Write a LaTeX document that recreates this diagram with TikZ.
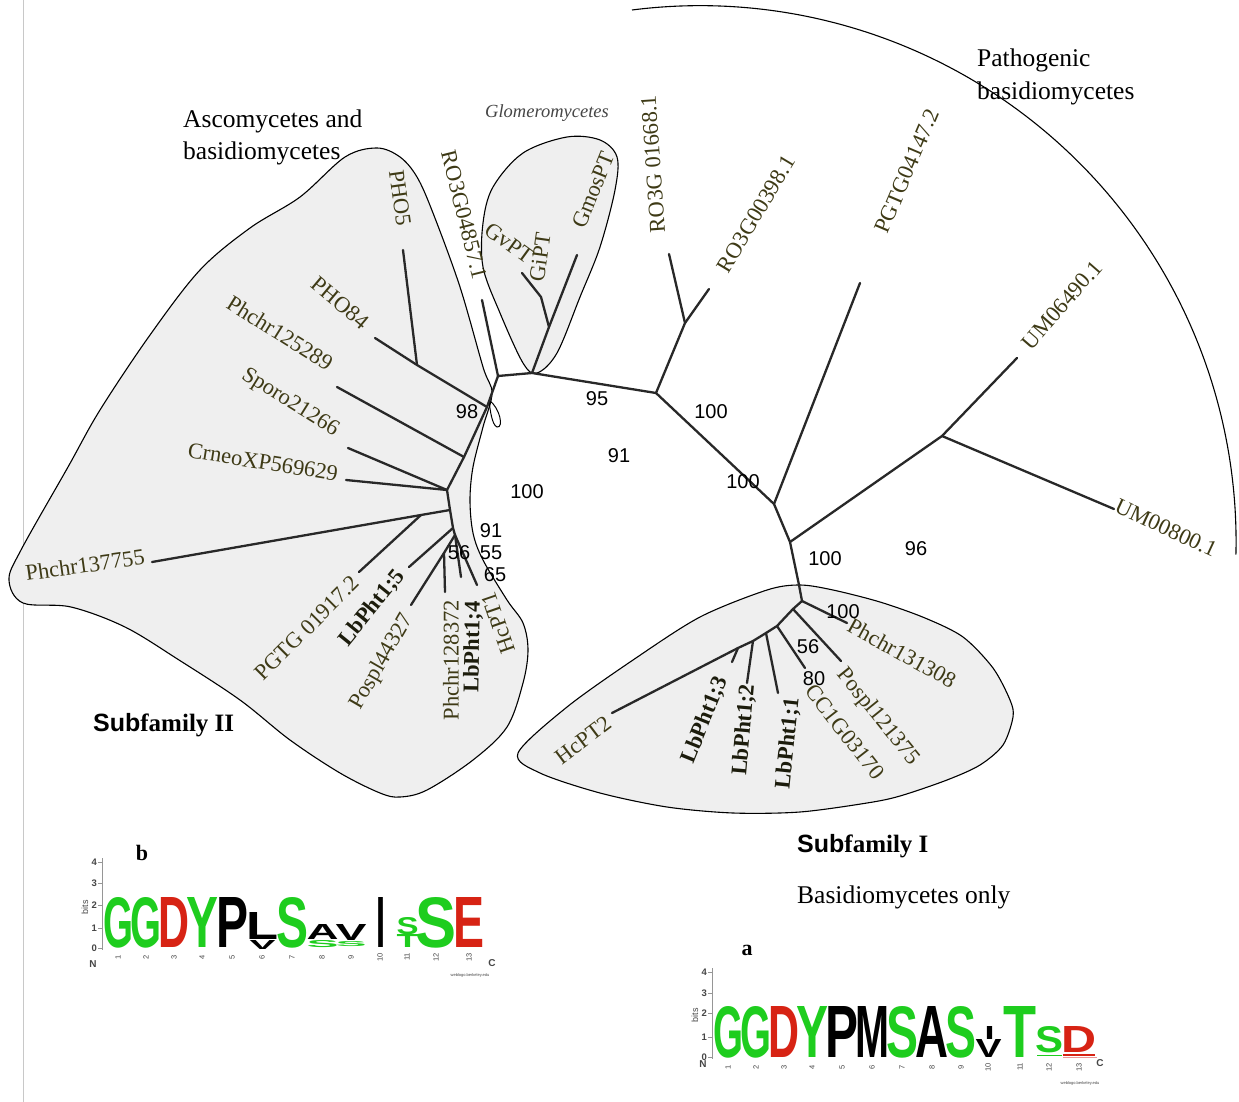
\documentclass[tikz,border=0pt]{standalone}
\usepackage{fontspec}
\setmainfont{Liberation Serif}
\setsansfont{Liberation Sans}
\usepackage{graphicx}
\definecolor{branchc}{RGB}{40,40,40}
\definecolor{blobc}{RGB}{239,239,239}
\definecolor{leafc}{RGB}{62,58,22}
\definecolor{leafbc}{RGB}{28,28,12}
\definecolor{lgreen}{RGB}{30,205,30}
\definecolor{lred}{RGB}{215,35,20}
\definecolor{lpink}{RGB}{235,150,150}
\definecolor{axisc}{RGB}{150,150,150}
\definecolor{axistc}{RGB}{70,70,70}
\definecolor{edgec}{RGB}{200,200,200}
\newcommand{\logoletter}[7]{%
  \node[inner sep=0pt, anchor=south west, text=#5] (#7) at ({#1-1.5},#4)
  {\resizebox{\dimexpr #2pt-#1pt+3pt\relax}{\dimexpr #4pt-#3pt\relax}{\sffamily\bfseries #6}};}
\begin{document}
\begin{tikzpicture}[x=1pt,y=-1pt,
  branch/.style={draw=branchc, line width=2.3pt, line cap=round, line join=round},
  blob/.style={draw=black, line width=1.1pt, fill=blobc},
  leaf/.style={inner sep=0pt, text=leafc, font=\fontsize{22.5}{22.5}\selectfont},
  leafbold/.style={inner sep=0pt, text=leafbc, font=\fontsize{22.5}{22.5}\selectfont\bfseries},
  boot/.style={inner sep=0pt, font=\sffamily\fontsize{20}{20}\selectfont},
  grp/.style={inner sep=0pt, anchor=base west, font=\fontsize{25.5}{25.5}\selectfont},
  tick/.style={draw=axisc, line width=0.8pt},
  ticklab/.style={inner sep=0pt, anchor=east, text=axistc, font=\sffamily\bfseries\fontsize{9.5}{9.5}\selectfont},
  posnum/.style={inner sep=0pt, rotate=90, text=axistc, font=\sffamily\fontsize{7.5}{7.5}\selectfont},
  tiny/.style={inner sep=0pt, text=axistc, font=\sffamily\fontsize{4}{4}\selectfont},
  ncl/.style={inner sep=0pt, text=axistc, font=\sffamily\bfseries\fontsize{10}{10}\selectfont},
]
\useasboundingbox (0,0) rectangle (1239,1102);
\fill[white] (0,0) rectangle (1239,1102);
\draw[edgec, line width=1pt] (23,0) -- (23,1102);

% ---------- clade outlines ----------
\draw[blob] plot[smooth cycle, tension=0.55] coordinates {
 (9,580) (21,550) (68,467) (100,410) (150,335) (200,270) (250,228) (300,197)
 (345,157) (377,148) (400,157) (417,177) (433,213) (460,287) (483,367) (492,393)
 (483,427) (473,467) (470,500) (473,533) (483,560) (507,600) (523,623) (528,650)
 (523,683) (507,727) (473,760) (427,790) (400,797) (380,793) (340,773) (290,740)
 (240,700) (179,660) (125,627) (71,607) (23,603)};
\draw[blob] plot[smooth cycle, tension=0.55] coordinates {
 (483,223) (493,187) (523,153) (567,137) (600,140) (617,157) (615,190) (600,247)
 (580,297) (557,353) (537,373) (523,363) (500,313) (483,267)};
\draw[blob] plot[smooth cycle, tension=0.5] coordinates {
 (518,753) (567,707) (633,660) (700,617) (767,590) (800,585) (833,590) (880,602)
 (925,618) (963,637) (993,668) (1010,700) (1013,717) (1003,745) (980,765) (947,780)
 (900,796) (867,803) (800,812) (733,813) (667,807) (600,793) (540,773)};
\draw[black, line width=1pt] (489,400) .. controls (500,408) and (504,428) .. (497,427)
  .. controls (492,425) and (490,410) .. (489,400);
% pathogenic arc
\draw[black, line width=1.1pt] (632,10) arc[start angle=-97.3, end angle=1.4, radius=536];

% ---------- tree coordinates ----------
\coordinate (A) at (498,376);
\coordinate (G0) at (532,373);
\coordinate (G1) at (549,327);
\coordinate (Gk) at (541,297);
\coordinate (Gv) at (522,273);
\coordinate (Gm) at (577,255);
\coordinate (B) at (656,393);
\coordinate (R) at (685,323);
\coordinate (Rt1) at (669,254);
\coordinate (Rt2) at (709,289);
\coordinate (C) at (774,504);
\coordinate (Pt) at (860,283);
\coordinate (D) at (790,542);
\coordinate (E) at (942,436);
\coordinate (U1) at (1017,358);
\coordinate (U2) at (1114,509);
\coordinate (Dd) at (799,585);
\coordinate (S1) at (802,601);
\coordinate (S2) at (793,609);
\coordinate (S3) at (777,626);
\coordinate (S4) at (766,633);
\coordinate (S5) at (753,641);
\coordinate (S6) at (738,648);
\coordinate (T131) at (847,623);
\coordinate (T121) at (841,661);
\coordinate (TCC) at (805,668);
\coordinate (T11) at (778,693);
\coordinate (T12) at (747,683);
\coordinate (T13) at (732,662);
\coordinate (TH2) at (612,713);
\coordinate (RO4) at (482,300);
\coordinate (P) at (417,365);
\coordinate (TP5) at (403,250);
\coordinate (TP84) at (375,338);
\coordinate (N1) at (487,407);
\coordinate (N2) at (464,457);
\coordinate (N3) at (447,490);
\coordinate (N4) at (450,510);
\coordinate (N5) at (453,528);
\coordinate (N6) at (455,535);
\coordinate (N7) at (444,553);
\coordinate (PG) at (421,515);
\coordinate (T125) at (337,387);
\coordinate (TSp) at (348,448);
\coordinate (TCr) at (346,480);
\coordinate (T137) at (152,562);
\coordinate (TPG) at (359,572);
\coordinate (T15) at (409,567);
\coordinate (TPo) at (411,605);
\coordinate (T128) at (445,592);
\coordinate (T14) at (461,577);
\coordinate (TH1) at (477,585);

% ---------- branches ----------
\draw[branch] (A) -- (G0) -- (B) -- (C) -- (D) -- (Dd) -- (S1) -- (S2) -- (S3) -- (S4) -- (S5) -- (S6) -- (TH2);
\draw[branch] (G0) -- (G1) -- (Gm);
\draw[branch] (G1) -- (Gk) -- (Gv);
\draw[branch] (B) -- (R) -- (Rt1);
\draw[branch] (R) -- (Rt2);
\draw[branch] (C) -- (Pt);
\draw[branch] (D) -- (E) -- (U1);
\draw[branch] (E) -- (U2);
\draw[branch] (S1) -- (T131);
\draw[branch] (S2) -- (T121);
\draw[branch] (S3) -- (TCC);
\draw[branch] (S4) -- (T11);
\draw[branch] (S5) -- (T12);
\draw[branch] (S6) -- (T13);
\draw[branch] (A) -- (RO4);
\draw[branch] (A) -- (N1) -- (N2) -- (N3) -- (N4) -- (N5) -- (N6);
\draw[branch] (N1) -- (P) -- (TP5);
\draw[branch] (P) -- (TP84);
\draw[branch] (N2) -- (T125);
\draw[branch] (N3) -- (TSp);
\draw[branch] (N3) -- (TCr);
\draw[branch] (N4) -- (PG) -- (T137);
\draw[branch] (PG) -- (TPG);
\draw[branch] (N5) -- (T15);
\draw[branch] (N6) -- (N7) -- (TPo);
\draw[branch] (N7) -- (T128);
\draw[branch] (N6) -- (T14);
\draw[branch] (N6) -- (TH1);

% ---------- leaf labels ----------
\node[leaf, rotate=-82] (lPHO5) at (400,198) {PHO5};
\node[leaf, rotate=-40] (lPHO84) at (340,303) {PHO84};
\node[leaf, rotate=-32] (l125) at (280,333) {Phchr125289};
\node[leaf, rotate=-32] (lSp) at (290,403) {Sporo21266};
\node[leaf, rotate=-9] (lCr) at (263,462) {CrneoXP569629};
\node[leaf, rotate=8] (l137) at (85,565) {Phchr137755};
\node[leaf, rotate=45] (lPG) at (307,628) {PGTG 01917.2};
\node[leafbold, rotate=51] (l15) at (372,608) {LbPht1;5};
\node[leaf, rotate=60] (lPo) at (382,662) {Pospl44327};
\node[leaf, rotate=90] (l128) at (451,660) {Phchr128372};
\node[leafbold, rotate=89] (l14) at (473,647) {LbPht1;4};
\node[leaf, rotate=109] (lH1) at (498,623) {HcPT1};
\node[leaf, rotate=-76] (lRO4) at (464,215) {RO3G04857.1};
\node[leaf, rotate=-36] (lGv) at (509,243) {GvPT};
\node[leaf, rotate=82] (lGi) at (540,257) {GiPT};
\node[leaf, rotate=68] (lGm) at (593,190) {GmosPT};
\node[leaf, rotate=94] (lR1) at (653,164) {RO3G 01668.1};
\node[leaf, rotate=59] (lR2) at (756,214) {RO3G00398.1};
\node[leaf, rotate=67] (lPt) at (907,171) {PGTG04147.2};
\node[leaf, rotate=49] (lU1) at (1062,305) {UM06490.1};
\node[leaf, rotate=-25] (lU2) at (1166,528) {UM00800.1};
\node[leaf, rotate=-29] (l131) at (902,653) {Phchr131308};
\node[leaf, rotate=-51] (l121) at (878,717) {Pospl121375};
\node[leaf, rotate=-52] (lCC) at (845,732) {CC1G03170};
\node[leafbold, rotate=84] (l11) at (788,743) {LbPht1;1};
\node[leafbold, rotate=85] (l12) at (744,730) {LbPht1;2};
\node[leafbold, rotate=68] (l13) at (705,720) {LbPht1;3};
\node[leaf, rotate=37] (lH2) at (583,740) {HcPT2};

% ---------- bootstrap values ----------
\node[boot] (b98) at (467,412) {98};
\node[boot] (b95) at (597,399) {95};
\node[boot] (b100a) at (711,412) {100};
\node[boot] (b91a) at (619,456) {91};
\node[boot] (b100b) at (527,492) {100};
\node[boot] (b100c) at (743,482) {100};
\node[boot] (b91b) at (491,531) {91};
\node[boot] (b56a) at (459,553) {56};
\node[boot] (b55) at (491,553) {55};
\node[boot] (b65) at (495,575) {65};
\node[boot] (b100d) at (825,559) {100};
\node[boot] (b96) at (916,549) {96};
\node[boot] (b100e) at (843,612) {100};
\node[boot] (b56b) at (808,647) {56};
\node[boot] (b80) at (814,679) {80};

% ---------- group labels ----------
\node[grp] (gAsc1) at (183,128) {Ascomycetes and};
\node[grp] (gAsc2) at (183,160) {basidiomycetes};
\node[grp] (gPat1) at (977,67) {Pathogenic};
\node[grp] (gPat2) at (977,100) {basidiomycetes};
\node[inner sep=0pt, anchor=base west, text=axistc, font=\itshape\fontsize{18.5}{18.5}\selectfont] (gGlo) at (485,118) {Glomeromycetes};
\node[inner sep=0pt, anchor=base west, font=\fontsize{25}{25}\selectfont] (gSub2) at (93,731) {{\sffamily\bfseries Sub}{\bfseries family II}};
\node[inner sep=0pt, anchor=base west, font=\fontsize{25}{25}\selectfont] (gSub1) at (797,852) {{\sffamily\bfseries Sub}{\bfseries family I}};
\node[grp] (gBas) at (797,903) {Basidiomycetes only};

% ---------- logo b ----------
\node[inner sep=0pt, font=\bfseries\fontsize{22}{22}\selectfont] (lblb) at (142,853) {b};
\draw[tick] (102,858) -- (102,950);
\foreach \yy/\t in {862/4,883/3,905/2,928/1,948/0} {
  \draw[tick] (98,\yy) -- (102,\yy);
  \node[ticklab] (tb\t) at (97,\yy) {\t};
}
\node[inner sep=0pt, rotate=90, text=axistc, font=\sffamily\fontsize{9}{9}\selectfont] (bitsb) at (85,907) {bits};
\logoletter{105}{132}{898}{948}{lgreen}{G}{lb1}
\logoletter{132}{160}{898}{948}{lgreen}{G}{lb2}
\logoletter{160}{188}{898}{948}{lred}{D}{lb3}
\logoletter{188}{217}{898}{948}{lgreen}{Y}{lb4}
\logoletter{218}{247}{898}{948}{black}{P}{lb5}
\logoletter{248}{277}{913}{940}{black}{L}{lb6}
\logoletter{251}{274}{941}{950}{black}{V}{lb6b}
\logoletter{278}{307}{898}{948}{lgreen}{S}{lb7}
\logoletter{308}{337}{925}{940}{black}{A}{lb8}
\logoletter{308}{337}{941}{948}{lgreen}{S}{lb8b}
\logoletter{337}{365}{925}{941}{black}{V}{lb9}
\logoletter{337}{365}{942}{947}{lgreen}{S}{lb9b}
\logoletter{378}{384}{898}{948}{black}{I}{lb10}
\logoletter{398}{417}{918}{935}{lgreen}{S}{lb11}
\logoletter{398}{417}{935}{948}{lgreen}{T}{lb11b}
\logoletter{417}{455}{898}{948}{lgreen}{S}{lb12}
\logoletter{455}{483}{898}{948}{lred}{E}{lb13}
\foreach \xx [count=\i] in {118,146,174,202,232,262,292,322,351,380,407,436,469} {
  \node[posnum] (pb\i) at (\xx,957) {\i};
}
\node[ncl] (Nb) at (93,964) {N};
\node[ncl] (Cb) at (492,963) {C};
\node[tiny] (wb) at (470,975) {weblogo.berkeley.edu};

% ---------- logo a ----------
\node[inner sep=0pt, font=\bfseries\fontsize{22}{22}\selectfont] (lbla) at (747,950) {a};
\draw[tick] (712,968) -- (712,1059);
\foreach \yy/\t in {972/4,993/3,1013/2,1037/1,1057/0} {
  \draw[tick] (708,\yy) -- (712,\yy);
  \node[ticklab] (ta\t) at (707,\yy) {\t};
}
\node[inner sep=0pt, rotate=90, text=axistc, font=\sffamily\fontsize{9}{9}\selectfont] (bitsa) at (695,1015) {bits};
\logoletter{715}{742}{1007}{1058}{lgreen}{G}{la1}
\logoletter{742}{770}{1007}{1058}{lgreen}{G}{la2}
\logoletter{770}{798}{1007}{1058}{lred}{D}{la3}
\logoletter{798}{827}{1007}{1058}{lgreen}{Y}{la4}
\logoletter{827}{857}{1007}{1058}{black}{P}{la5}
\logoletter{857}{888}{1007}{1058}{black}{M}{la6}
\logoletter{888}{917}{1007}{1058}{lgreen}{S}{la7}
\logoletter{917}{947}{1007}{1058}{black}{A}{la8}
\logoletter{947}{975}{1007}{1058}{lgreen}{S}{la9}
\logoletter{986}{993}{1027}{1040}{black}{I}{la10}
\logoletter{977}{1000}{1040}{1058}{black}{V}{la10b}
\logoletter{1005}{1035}{1007}{1058}{lgreen}{T}{la11}
\logoletter{1037}{1062}{1027}{1053}{lgreen}{S}{la12}
\logoletter{1063}{1095}{1027}{1053}{lred}{D}{la13}
\draw[lgreen, line width=1pt] (1037,1055) -- (1062,1055);
\draw[lred, line width=1.2pt] (1063,1055) -- (1095,1055);
\draw[lpink, line width=1pt] (1063,1057.5) -- (1097,1057.5);
\foreach \xx [count=\i] in {728,756,784,812,842,872,902,932,961,988,1020,1049,1079} {
  \node[posnum] (pa\i) at (\xx,1067) {\i};
}
\node[ncl] (Na) at (703,1064) {N};
\node[ncl] (Ca) at (1100,1063) {C};
\node[tiny] (wa) at (1080,1083) {weblogo.berkeley.edu};
\end{tikzpicture}
\end{document}
